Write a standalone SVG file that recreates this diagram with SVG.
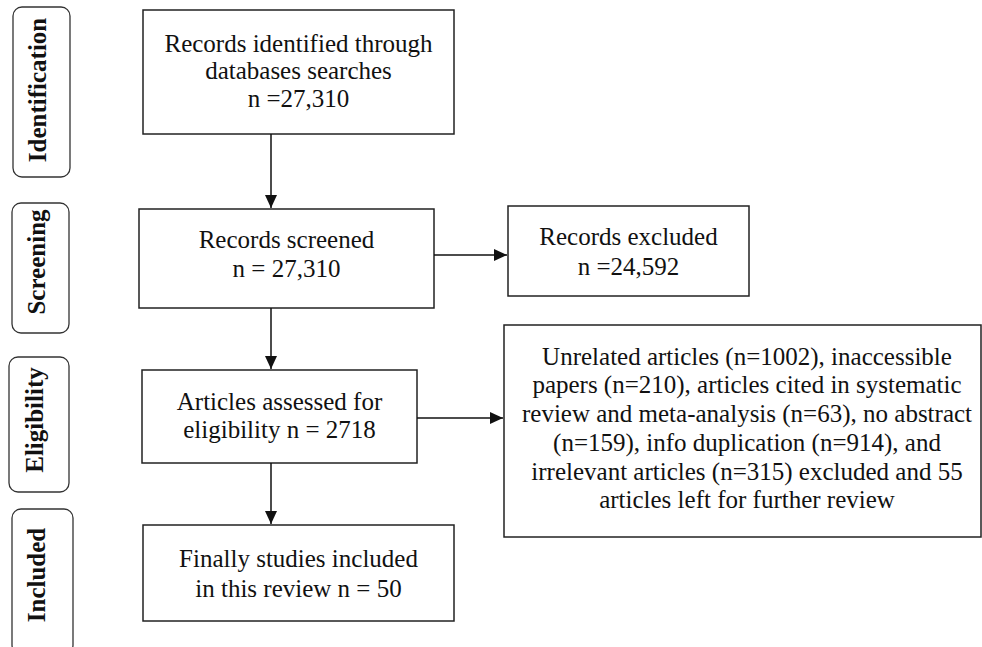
<svg xmlns="http://www.w3.org/2000/svg" width="982" height="647" viewBox="0 0 982 647">
<style>
.box{fill:#fff;stroke:#222;stroke-width:1.5}
.side{fill:#fff;stroke:#333;stroke-width:1.3}
.t{font-family:"Liberation Serif","Times New Roman",serif;font-size:25px;fill:#111;text-anchor:middle}
.s{font-family:"Liberation Serif","Times New Roman",serif;font-size:25px;font-weight:bold;fill:#111;text-anchor:middle}
.c{stroke:#111;stroke-width:1.5;fill:none}
</style>
<defs>
<marker id="ah" viewBox="0 0 13 12" refX="13" refY="6" markerWidth="13" markerHeight="12" markerUnits="userSpaceOnUse" orient="auto">
<path d="M0,0 L13,6 L0,12 z" fill="#111"/>
</marker>
</defs>
<rect width="982" height="647" fill="#fff"/>
<g id="stage-identification">
<rect class="side" x="13" y="7" width="57" height="170" rx="9"/>
<text class="s" transform="translate(46,90) rotate(-90)">Identification</text>
</g>
<g id="stage-screening">
<rect class="side" x="12" y="203" width="57" height="130" rx="9"/>
<text class="s" transform="translate(45,262) rotate(-90)">Screening</text>
</g>
<g id="stage-eligibility">
<rect class="side" x="9" y="357" width="60" height="135" rx="9"/>
<text class="s" transform="translate(43,420) rotate(-90)">Eligibility</text>
</g>
<g id="stage-included">
<rect class="side" x="12" y="509" width="61" height="145" rx="9"/>
<text class="s" transform="translate(45,575) rotate(-90)">Included</text>
</g>
<g id="identified">
<rect class="box" x="143" y="10" width="311" height="124"/>
<text class="t" x="298.5" y="52">Records identified through</text>
<text class="t" x="298.5" y="79">databases searches</text>
<text class="t" x="298.5" y="107">n =27,310</text>
</g>
<g id="screened">
<rect class="box" x="139" y="209" width="295" height="99"/>
<text class="t" x="286.5" y="248">Records screened</text>
<text class="t" x="286.5" y="277">n = 27,310</text>
</g>
<g id="excluded">
<rect class="box" x="508" y="206" width="241" height="90"/>
<text class="t" x="628.5" y="245">Records excluded</text>
<text class="t" x="628.5" y="275">n =24,592</text>
</g>
<g id="assessed">
<rect class="box" x="142" y="370" width="275" height="93"/>
<text class="t" x="279.5" y="410">Articles assessed for</text>
<text class="t" x="279.5" y="438">eligibility n = 2718</text>
</g>
<g id="reasons">
<rect class="box" x="504" y="325" width="477" height="212"/>
<text class="t" x="747" y="365">Unrelated articles (n=1002), inaccessible</text>
<text class="t" x="747" y="393">papers (n=210), articles cited in systematic</text>
<text class="t" x="747" y="422">review and meta-analysis (n=63), no abstract</text>
<text class="t" x="747" y="451">(n=159), info duplication (n=914), and</text>
<text class="t" x="747" y="480">irrelevant articles (n=315) excluded and 55</text>
<text class="t" x="747" y="508">articles left for further review</text>
</g>
<g id="included">
<rect class="box" x="143" y="525" width="311" height="96"/>
<text class="t" x="298.5" y="567">Finally studies included</text>
<text class="t" x="298.5" y="597">in this review n = 50</text>
</g>
<g id="connectors">
<line class="c" x1="271" y1="134" x2="271" y2="208" marker-end="url(#ah)"/>
<line class="c" x1="271" y1="308" x2="271" y2="369" marker-end="url(#ah)"/>
<line class="c" x1="271" y1="463" x2="271" y2="524" marker-end="url(#ah)"/>
<line class="c" x1="434" y1="255" x2="507" y2="255" marker-end="url(#ah)"/>
<line class="c" x1="417" y1="418" x2="503" y2="418" marker-end="url(#ah)"/>
</g>
</svg>
